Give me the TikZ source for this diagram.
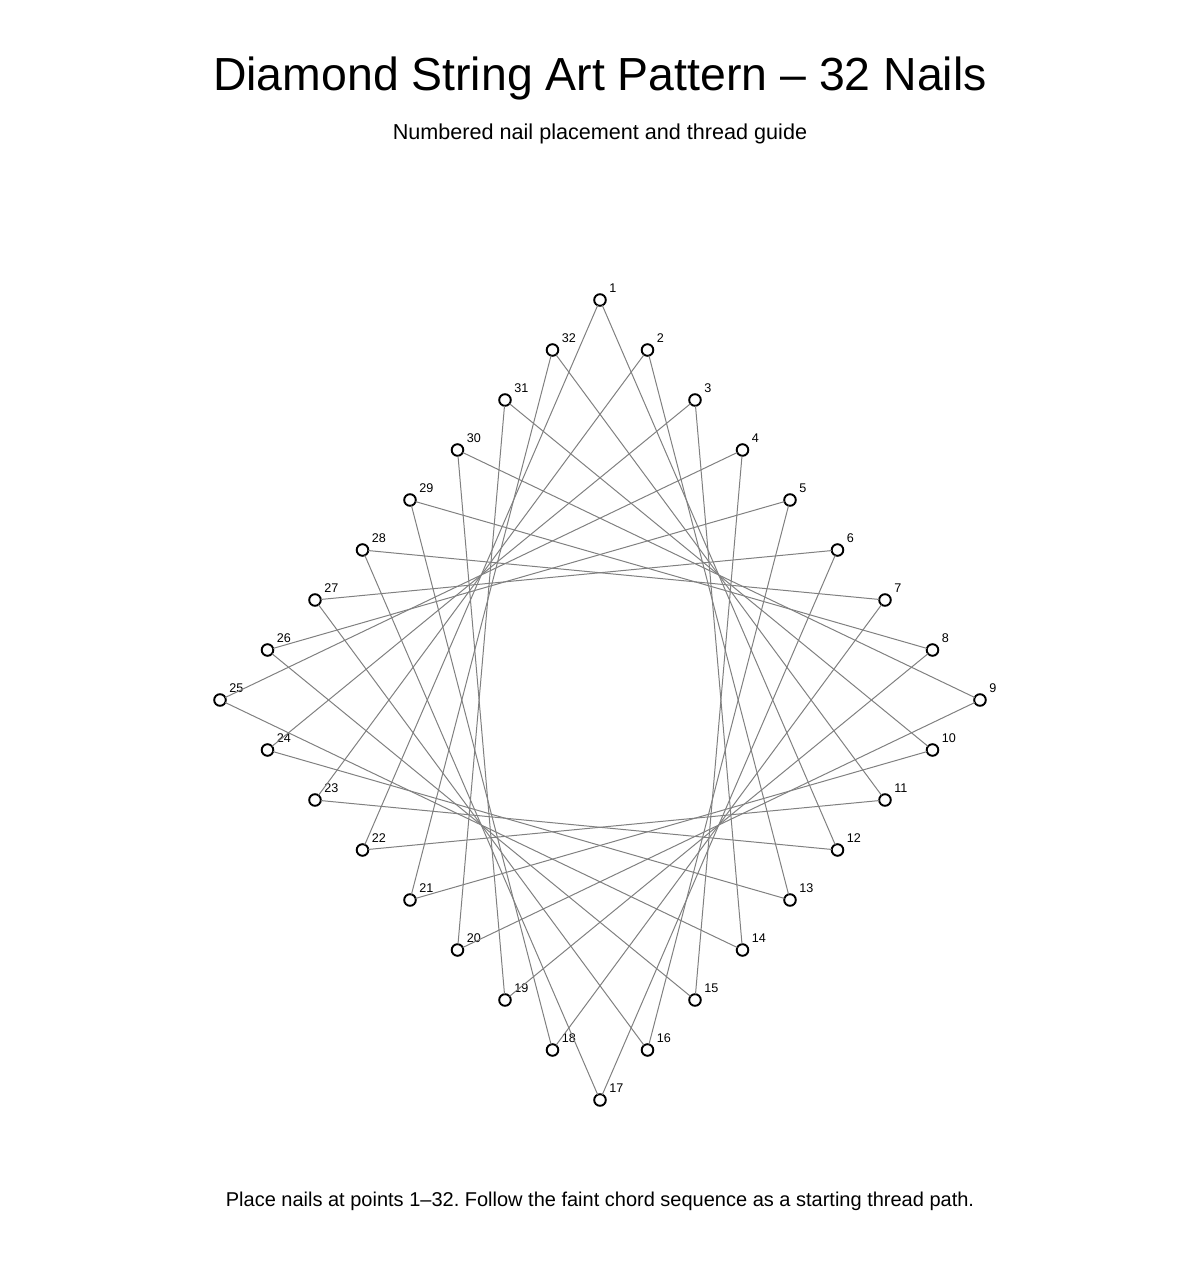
\documentclass[tikz,border=0pt]{standalone}
\usepackage{fontspec}
\setmainfont{Liberation Sans}
\usetikzlibrary{positioning}
\frenchspacing

\begin{document}
\begin{tikzpicture}[x=0.5pt, y=-0.5pt,
  nail/.style={circle, draw=black, fill=white, line width=0.95pt, minimum size=5.8pt, inner sep=0pt, outer sep=0pt},
  nailnum/.style={font=\fontsize{6.3}{7}\selectfont, inner sep=0pt, anchor=base west},
  thread/.style={draw=gray, line width=0.5pt}]

% Page frame
\useasboundingbox (0,0) rectangle (1200,1280);

% Step between neighbouring nails
\def\dx{47.5}
\def\dy{50}

% --- Titles ---
\node[anchor=base, inner sep=0pt, font=\fontsize{23.2}{28}\selectfont] (title) at (600,90) {Diamond String Art Pattern – 32 Nails};
\node[anchor=base, inner sep=0pt, font=\fontsize{10.8}{13}\selectfont] (subtitle) at (600,139) {Numbered nail placement and thread guide};

% --- Nails on the four sides of the diamond ---
\foreach \i in {0,...,7} {
  \pgfmathtruncatemacro\ka{\i+1}
  \pgfmathtruncatemacro\kb{\i+9}
  \pgfmathtruncatemacro\kc{\i+17}
  \pgfmathtruncatemacro\kd{\i+25}
  \node[nail] (n\ka) at ({600+\dx*\i},{300+\dy*\i}) {};
  \node[nail] (n\kb) at ({980-\dx*\i},{700+\dy*\i}) {};
  \node[nail] (n\kc) at ({600-\dx*\i},{1100-\dy*\i}) {};
  \node[nail] (n\kd) at ({220+\dx*\i},{700-\dy*\i}) {};
}

% Numbers next to the nails
\foreach \k in {1,...,32}
  \node[nailnum, xshift=4.5pt, yshift=3.6pt] (l\k) at (n\k.center) {\k};

% --- Thread: every nail to the one 11 further on ---
\foreach \k in {1,...,32} {
  \pgfmathtruncatemacro\m{mod(\k+10,32)+1}
  \draw[thread] (n\k) -- (n\m);
}

% --- Caption ---
\node[anchor=base, inner sep=0pt, font=\fontsize{10}{12}\selectfont] (caption) at (600,1206) {Place nails at points 1–32. Follow the faint chord sequence as a starting thread path.};

\end{tikzpicture}
\end{document}
